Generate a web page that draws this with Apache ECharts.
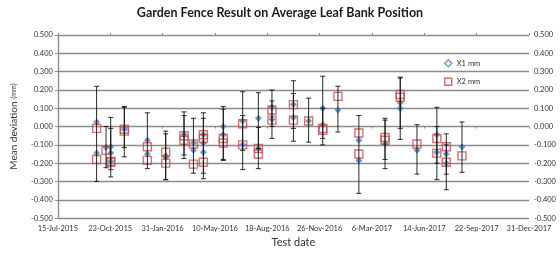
<!DOCTYPE html>
<html><head><meta charset="utf-8">
<script src="https://cdn.jsdelivr.net/npm/echarts@6/dist/echarts.min.js"></script>
<style>html,body{margin:0;padding:0;background:#fff}#c{width:560px;height:253px}</style>
</head><body><div id="c"></div>
<script>
const chartTitle = 'Garden Fence Result on Average Leaf Bank Position';
const tickLabels = ['15-Jul-2015','23-Oct-2015','31-Jan-2016','10-May-2016','18-Aug-2016','26-Nov-2016','6-Mar-2017','14-Jun-2017','22-Sep-2017','31-Dec-2017'];
const testDates = ['2015-09-27','2015-10-15','2015-10-24','2015-11-19','2016-01-02','2016-02-06','2016-03-12','2016-03-30','2016-04-18','2016-05-26','2016-07-02','2016-08-01','2016-08-27','2016-10-07','2016-11-05','2016-12-02','2016-12-31','2017-02-09','2017-03-31','2017-04-29','2017-05-31','2017-07-08','2017-07-26','2017-08-25'];
const x1Values = [[0.025,-0.145],[-0.115],[-0.11,-0.145,-0.19],[-0.015],[-0.075,-0.15],[-0.16,-0.17],[-0.045],[-0.09,-0.13],[-0.045,-0.09,-0.14],[0.0,-0.045],[0.03,-0.1],[0.045,-0.12],[0.105,0.04],[0.12,0.05],[0.03],[0.1,0.01],[0.09],[-0.075,-0.185],[-0.095],[0.13,0.1],[-0.13],[-0.045,-0.14],[-0.15,-0.2],[-0.11]];
const x2Values = [[-0.01,-0.18],[-0.13],[-0.19,-0.195],[-0.015,-0.025],[-0.11,-0.185],[-0.14,-0.2],[-0.05,-0.075],[-0.095,-0.205],[-0.045,-0.065,-0.195],[-0.065,-0.09],[0.015,-0.1],[-0.12,-0.15],[0.09,0.035],[0.12,0.035],[0.03],[-0.01,-0.02],[0.165],[-0.035,-0.15],[-0.06,-0.075],[0.175,0.16],[-0.095],[-0.065,-0.145],[-0.11,-0.195],[-0.16]];
const errorRanges = [[[-0.30,0.22]],[[-0.225,0.0]],[[-0.275,0.05],[-0.235,-0.01]],[[-0.165,0.11],[-0.115,0.105]],[[-0.23,0.075]],[[-0.29,-0.025],[-0.29,-0.04]],[[-0.175,0.08],[-0.155,0.06]],[[-0.255,0.045]],[[-0.285,0.075],[-0.255,0.045]],[[-0.185,0.11],[-0.18,0.095]],[[-0.235,0.19],[-0.13,0.06]],[[-0.23,0.185],[-0.12,-0.005]],[[-0.065,0.20],[0.0,0.14]],[[-0.08,0.25],[-0.01,0.18]],[[-0.085,0.155]],[[-0.1,0.275],[-0.065,0.1]],[[-0.03,0.22]],[[-0.365,0.06]],[[-0.23,0.045],[-0.18,0.035]],[[-0.07,0.27],[-0.01,0.265]],[[-0.26,0.01]],[[-0.29,0.105],[-0.2,0.0]],[[-0.345,-0.04],[-0.26,-0.1]],[[-0.25,0.025]]];

const DAY0 = Date.UTC(2015,6,15);
function dayOf(s){const p=s.split('-').map(Number);return (Date.UTC(p[0],p[1]-1,p[2])-DAY0)/86400000;}
const x1Data=[],x2Data=[],errData=[];
testDates.forEach((d,i)=>{const t=dayOf(d);
  x1Values[i].forEach(v=>x1Data.push([t,v]));
  x2Values[i].forEach(v=>x2Data.push([t,v]));
  errorRanges[i].forEach(r=>errData.push([t,r[0],r[1]]));
});
const FONT='Lato';
const gridCol='#8c8c8c';
const chart=echarts.init(document.getElementById('c'),null,{renderer:'canvas'});
chart.setOption({
  animation:false,
  textStyle:{fontFamily:FONT},
  title:{text:chartTitle,left:'center',top:1,textStyle:{fontFamily:FONT,fontSize:12.5,fontWeight:'bold',color:'#1a1a1a'}},
  grid:{left:49,right:31,top:35,bottom:32},
  legend:{orient:'vertical',left:439,top:54,itemGap:10,itemWidth:7,itemHeight:7,
    textStyle:{fontFamily:FONT,fontSize:7.5,color:'#333'},
    data:[{name:'X1 mm',icon:'diamond',itemStyle:{color:'#fff',borderColor:'#4f81bd',borderWidth:1.5}},
          {name:'X2 mm',icon:'rect',itemStyle:{color:'#fff',borderColor:'#c0504d',borderWidth:1.5}}]},
  xAxis:[
    {type:'value',position:'bottom',min:0,max:900,interval:100,
     name:'Test date',nameLocation:'middle',nameGap:17,nameTextStyle:{fontFamily:FONT,fontSize:11,color:'#333'},
     axisLine:{onZero:false,show:false},axisTick:{show:false},splitLine:{show:false},
     axisLabel:{fontFamily:FONT,fontSize:7.5,color:'#333',margin:6,formatter:v=>tickLabels[Math.round(v/100)]}},
    {type:'value',position:'top',min:0,max:900,interval:100,
     axisLine:{show:false,onZero:false},axisTick:{show:true,length:2,lineStyle:{color:gridCol}},axisLabel:{show:false},splitLine:{show:false}},
    {type:'value',position:'bottom',min:0,max:900,interval:100,
     axisLine:{show:false,onZero:true},axisTick:{show:true,length:2,lineStyle:{color:gridCol}},axisLabel:{show:false},splitLine:{show:false}}
  ],
  yAxis:[
    {type:'value',min:-0.5,max:0.5,interval:0.1,position:'left',
     name:'{a|Mean deviation} {b|(mm)}',nameLocation:'middle',nameGap:34,
     nameTextStyle:{rich:{a:{fontFamily:FONT,fontSize:10,color:'#333'},b:{fontFamily:FONT,fontSize:7,color:'#333'}}},
     axisLine:{show:true,lineStyle:{color:gridCol,width:1.2}},axisTick:{show:true,length:3,lineStyle:{color:gridCol}},
     splitLine:{show:true,lineStyle:{color:gridCol,width:1.3}},
     axisLabel:{fontFamily:FONT,fontSize:7.5,color:'#333',margin:5,formatter:v=>v.toFixed(3)}},
    {type:'value',min:-0.5,max:0.5,interval:0.1,position:'right',
     axisLine:{show:true,lineStyle:{color:gridCol,width:1.2}},axisTick:{show:true,length:3,lineStyle:{color:gridCol}},
     splitLine:{show:false},
     axisLabel:{fontFamily:FONT,fontSize:7.5,color:'#333',margin:5,formatter:v=>v.toFixed(3)}}
  ],
  series:[
    {name:'X1 mm',type:'scatter',data:x1Data,symbol:'diamond',symbolSize:7,z:3,
     itemStyle:{color:'#4f81bd'}},
    {name:'X2 mm',type:'scatter',data:x2Data,symbol:'rect',symbolSize:8,z:4,
     itemStyle:{color:'rgba(255,255,255,0)',borderColor:'#c0504d',borderWidth:1.4}},
    {name:'err',type:'custom',data:errData,z:5,encode:{x:0,y:[1,2]},
     renderItem:function(params,api){
       const lo=api.coord([api.value(0),api.value(1)]);
       const hi=api.coord([api.value(0),api.value(2)]);
       const w=2.5;
       const st={stroke:'#111',lineWidth:0.9};
       return {type:'group',children:[
         {type:'line',shape:{x1:lo[0],y1:lo[1],x2:hi[0],y2:hi[1]},style:st},
         {type:'line',shape:{x1:lo[0]-w,y1:lo[1],x2:lo[0]+w,y2:lo[1]},style:st},
         {type:'line',shape:{x1:hi[0]-w,y1:hi[1],x2:hi[0]+w,y2:hi[1]},style:st}
       ]};
     }}
  ]
});
</script></body></html>
